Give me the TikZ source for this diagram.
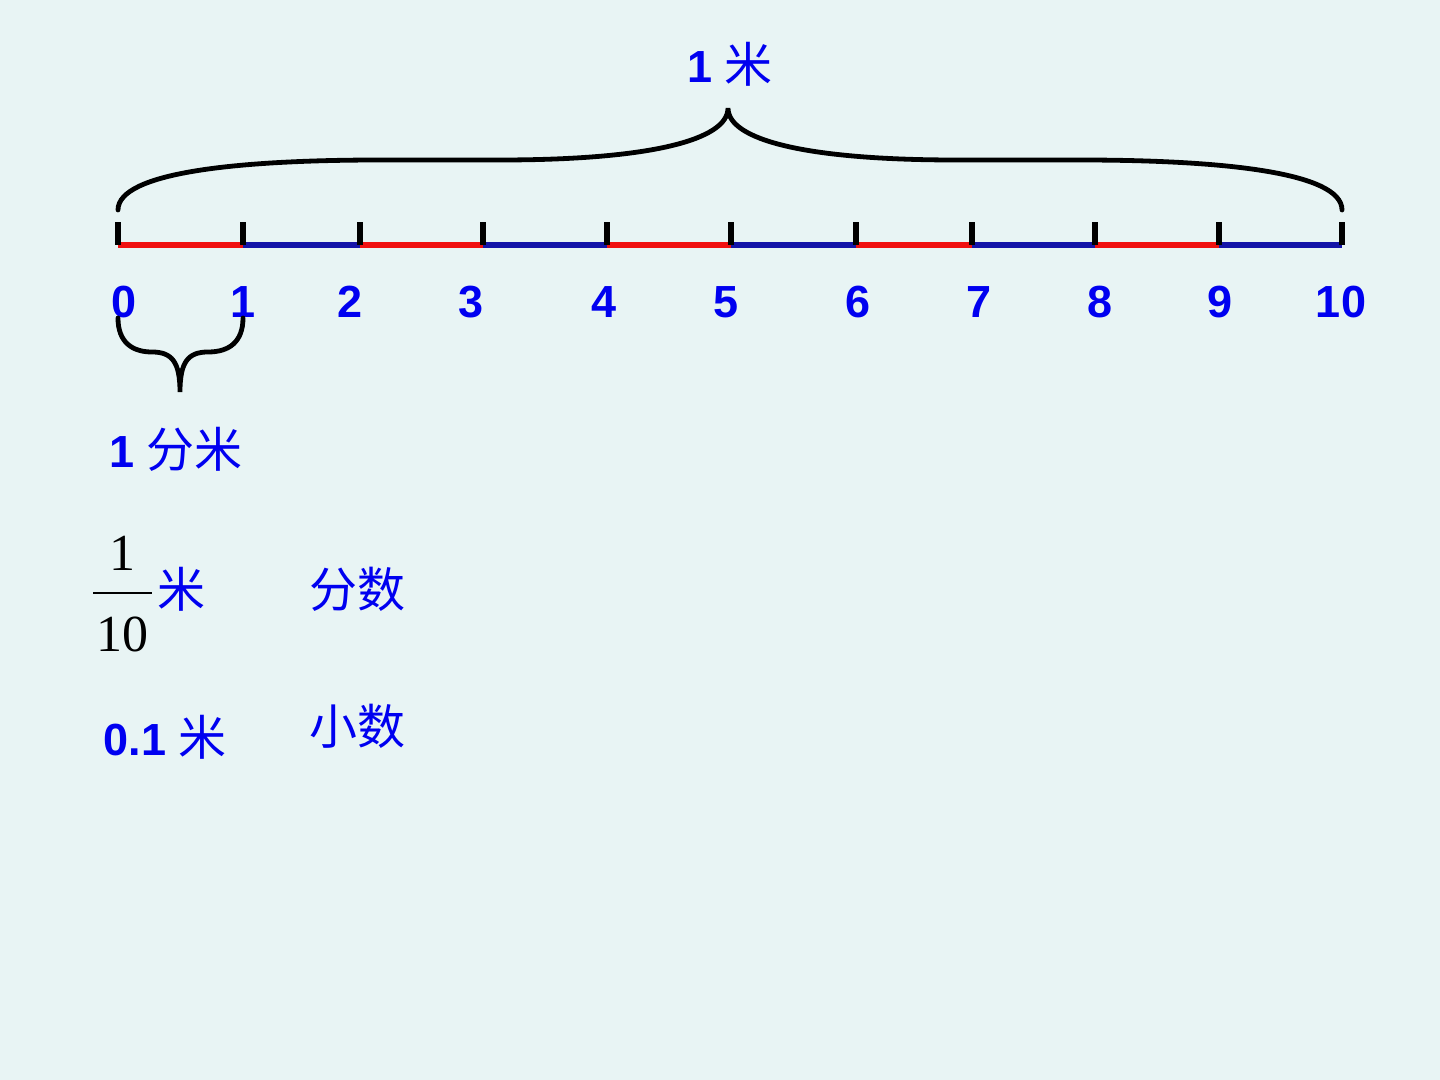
\documentclass[tikz,border=0pt]{standalone}
\usepackage{fontspec}
\setmainfont{Liberation Sans}
\newfontfamily\cjk{Noto Sans CJK SC}
\newfontfamily\serifnum{Liberation Serif}
\definecolor{bgc}{HTML}{E8F4F4}
\definecolor{txtblue}{HTML}{0000F0}
\definecolor{segblue}{HTML}{1414A8}
\definecolor{segred}{HTML}{F01010}
\tikzset{
  lbl/.style={text=txtblue, font=\bfseries\fontsize{22.5}{26}\selectfont, inner sep=0pt, anchor=base},
  cjklbl/.style={text=txtblue, font=\cjk\fontsize{24}{28}\selectfont, inner sep=0pt},
  fracnum/.style={text=black, font=\serifnum\fontsize{26}{30}\selectfont, inner sep=0pt, anchor=base},
  brace/.style={draw=black, line width=2.4pt, line cap=round},
  tickmark/.style={draw=black, line width=2.6pt},
  segr/.style={draw=segred, line width=3pt},
  segb/.style={draw=segblue, line width=3pt}
}
\newcommand\cj[1]{{\cjk\mdseries\fontsize{24}{28}\selectfont #1}}
\begin{document}
\begin{tikzpicture}[x=0.5pt, y=-0.5pt]
\fill[bgc] (0,0) rectangle (1440,1080);
\useasboundingbox (0,0) rectangle (1440,1080);
% tick coordinates
\foreach \n/\x in {0/118,1/243,2/360,3/483,4/607,5/731,6/856,7/972,8/1095,9/1219,10/1342}{
  \coordinate (t\n) at (\x,245);
  \coordinate (u\n) at (\x,222);
}
% colored segments
\foreach \a/\b/\c in {0/1/segr,1/2/segb,2/3/segr,3/4/segb,4/5/segr,5/6/segb,6/7/segr,7/8/segb,8/9/segr,9/10/segb}{
  \draw[\c] (t\a) -- (t\b);
}
% ticks
\foreach \n in {0,...,10}{
  \draw[tickmark] (t\n) -- (u\n);
}
% number labels
\foreach \n/\x in {0/124,1/243,2/350,3/471,4/604,5/726,6/858,7/979,8/1100,9/1220,10/1341}{
  \node[lbl] (n\n) at (\x,318) {\n};
}
% big brace
\coordinate (bl) at (118,210);
\coordinate (bt) at (728,108);
\coordinate (br) at (1342,210);
\draw[brace] (bl) .. controls (118,172) and (240,160) .. (380,160)
  -- (500,160) .. controls (650,160) and (728,140) .. (bt)
  .. controls (728,140) and (806,160) .. (956,160)
  -- (1080,160) .. controls (1220,160) and (1342,172) .. (br);
\node[lbl] (top) at (730,83) {1 \cj{米}};
% small brace
\coordinate (sl) at (118,318);
\coordinate (st) at (180,392);
\coordinate (sr) at (243,318);
\draw[brace] (sl) .. controls (118,342) and (132,352) .. (152,352)
  .. controls (172,352) and (180,362) .. (st)
  .. controls (180,362) and (188,352) .. (208,352)
  .. controls (229,352) and (243,342) .. (sr);
\node[lbl] (dm) at (176,467) {1 \cj{分米}};
% fraction
\node[fracnum] (fn) at (122,570) {1};
\node[fracnum] (fd) at (122,651) {10};
\draw[line width=1.3pt] (93,593) -- (152,593);
\node[cjklbl] (fm) at (181,589) {米};
\node[cjklbl] (fs) at (357,589) {分数};
% decimal
\node[lbl] (dec) at (165,755) {0.1 \cj{米}};
\node[cjklbl] (xs) at (357,726) {小数};
\end{tikzpicture}
\end{document}
